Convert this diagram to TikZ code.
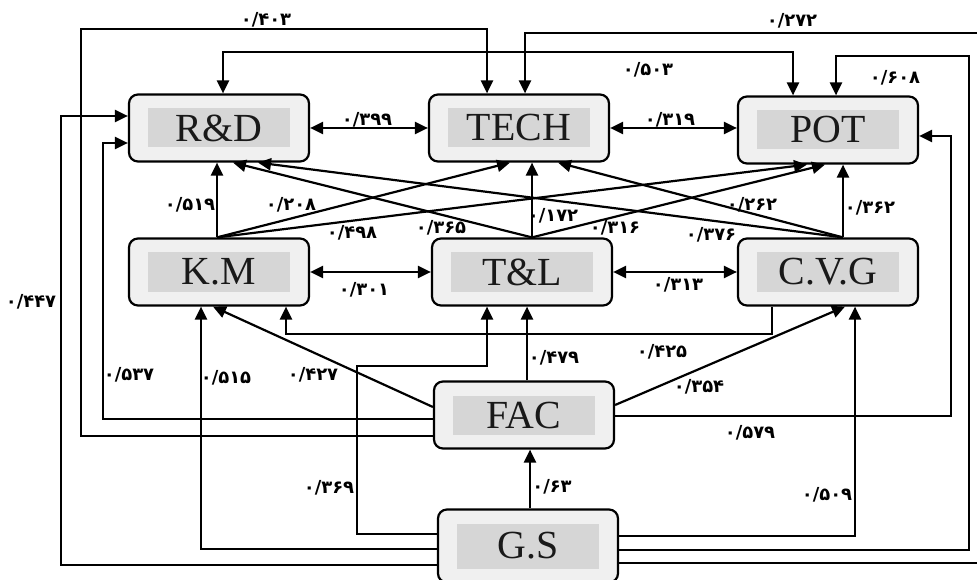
\documentclass[tikz,border=0pt]{standalone}
\usepackage{fontspec}
\setmainfont{Liberation Serif}
\newfontfamily\fa[Script=Arabic]{DejaVu Sans}
\usetikzlibrary{arrows.meta}
\definecolor{boxfill}{HTML}{F0F0F0}
\definecolor{innerfill}{HTML}{D6D6D6}
\begin{document}
\begin{tikzpicture}[x=1bp,y=-1bp,
  box/.style={draw=black, line width=2.2bp, fill=boxfill, rounded corners=9bp,
    minimum width=180bp, minimum height=67bp, inner sep=0pt,
    font=\fontsize{40}{40}\selectfont, text=black!90,
    path picture={\fill[innerfill, sharp corners]
      ([xshift=19bp,yshift=-14bp]path picture bounding box.north west) rectangle
      ([xshift=-19bp,yshift=14bp]path picture bounding box.south east);}},
  con/.style={line width=2.2bp, draw=black},
  arr/.style={con, -{Triangle[length=13bp,width=12bp]}},
  both/.style={con, {Triangle[length=13bp,width=12bp]}-{Triangle[length=13bp,width=12bp]}},
  lab/.style={font=\fa\bfseries\fontsize{18}{18}\selectfont, inner sep=0pt}
]
\useasboundingbox (0,0) rectangle (977,580);

% boxes
\node[box] (rd)   at (219,128) {R\&D};
\node[box] (tech) at (519,128) {TECH};
\node[box] (pot)  at (828,130) {POT};
\node[box] (km)   at (219,272) {K.M};
\node[box] (tl)   at (522,272) {T\&L};
\node[box] (cvg)  at (828,272) {C.V.G};
\node[box] (fac)  at (524,415) {FAC};
\node[box, minimum height=73bp] (gs) at (528,546) {\raisebox{2bp}{G.S}};

% horizontal two-way links
\draw[both] (rd.east) -- (rd.east -| tech.west);
\draw[both] (tech.east) -- (tech.east -| pot.west);
\draw[both] (km.east) -- (km.east -| tl.west);
\draw[both] (tl.east) -- (tl.east -| cvg.west);

% outer top loops
\draw[arr] (fac.west |- 0,436) -- (81,436) -- (81,29) -- (487,29) -- (tech.north -| 487,0);
\draw[both] (rd.north -| 223,0) -- (223,52) -- (793,52) -- (pot.north -| 793,0);
\draw[arr] (gs.east |- 0,563) -- (981,563) -- (981,33) -- (525,33) -- (tech.north -| 525,0);
\draw[arr] (gs.east |- 0,550) -- (969,550) -- (969,56) -- (836,56) -- (pot.north -| 836,0);
\draw[arr] (gs.east |- 0,536) -- (855,536) -- (cvg.south -| 855,0);
\draw[arr] (fac.east |- 0,416) -- (951,416) -- (951,136) -- (pot.east |- 0,136);

% left loops
\draw[arr] (gs.west |- 0,565) -- (61,565) -- (61,116) -- (rd.west |- 0,116);
\draw[arr] (fac.west |- 0,419) -- (103,419) -- (103,143) -- (rd.west |- 0,143);
\draw[arr] (gs.west |- 0,549) -- (201,549) -- (km.south -| 201,0);
\draw[arr] (gs.west |- 0,534) -- (357,534) -- (357,366) -- (487,366) -- (tl.south -| 487,0);

% FAC / G.S links
\draw[arr] (fac.west |- 0,407) -- (km.south -| 213,0);
\draw[arr] (fac.north -| 527,0) -- (tl.south -| 527,0);
\draw[arr] (fac.east |- 0,405) -- (cvg.south -| 845,0);
\draw[arr] (cvg.south -| 772,0) -- (772,334) -- (286,334) -- (km.south -| 286,0);
\draw[arr] (gs.north -| 530,0) -- (fac.south -| 530,0);

% middle links
\draw[arr] (km.north -| 217,0) -- (rd.south -| 217,0);
\draw[arr] (km.north -| 217,0) -- (tech.south -| 510,0);
\draw[arr] (km.north -| 217,0) -- (pot.south -| 807,0);
\draw[arr] (tl.north -| 532,0) -- (tech.south -| 532,0);
\draw[arr] (tl.north -| 532,0) -- (rd.south -| 233,0);
\draw[arr] (tl.north -| 532,0) -- (pot.south -| 825,0);
\draw[arr] (cvg.north -| 843,0) -- (pot.south -| 843,0);
\draw[arr] (cvg.north -| 843,0) -- (tech.south -| 558,0);
\draw[arr] (cvg.north -| 843,0) -- (rd.south -| 258,0);

% labels
\node[lab] (l399) at (367,120) {۰/۳۹۹};
\node[lab] (l319) at (670,120) {۰/۳۱۹};
\node[lab] (l301) at (364,290) {۰/۳۰۱};
\node[lab] (l313) at (678,285) {۰/۳۱۳};
\node[lab] (l403) at (266,20) {۰/۴۰۳};
\node[lab] (l503) at (648,70) {۰/۵۰۳};
\node[lab] (l272) at (792,21) {۰/۲۷۲};
\node[lab] (l608) at (895,78) {۰/۶۰۸};
\node[lab] (l509) at (827,495) {۰/۵۰۹};
\node[lab] (l579) at (750,433) {۰/۵۷۹};
\node[lab] (l447) at (31,302) {۰/۴۴۷};
\node[lab] (l537) at (129,375) {۰/۵۳۷};
\node[lab] (l515) at (226,378) {۰/۵۱۵};
\node[lab] (l369) at (329,488) {۰/۳۶۹};
\node[lab] (l427) at (313,375) {۰/۴۲۷};
\node[lab] (l479) at (554,358) {۰/۴۷۹};
\node[lab] (l354) at (699,387) {۰/۳۵۴};
\node[lab] (l425) at (662,352) {۰/۴۲۵};
\node[lab] (l63)  at (552,487) {۰/۶۳};
\node[lab] (l519) at (190,205) {۰/۵۱۹};
\node[lab] (l208) at (291,205) {۰/۲۰۸};
\node[lab] (l498) at (352,233) {۰/۴۹۸};
\node[lab] (l172) at (553,216) {۰/۱۷۲};
\node[lab] (l365) at (441,228) {۰/۳۶۵};
\node[lab] (l316) at (615,228) {۰/۳۱۶};
\node[lab] (l362) at (870,208) {۰/۳۶۲};
\node[lab] (l262) at (752,205) {۰/۲۶۲};
\node[lab] (l376) at (711,235) {۰/۳۷۶};
\end{tikzpicture}
\end{document}
